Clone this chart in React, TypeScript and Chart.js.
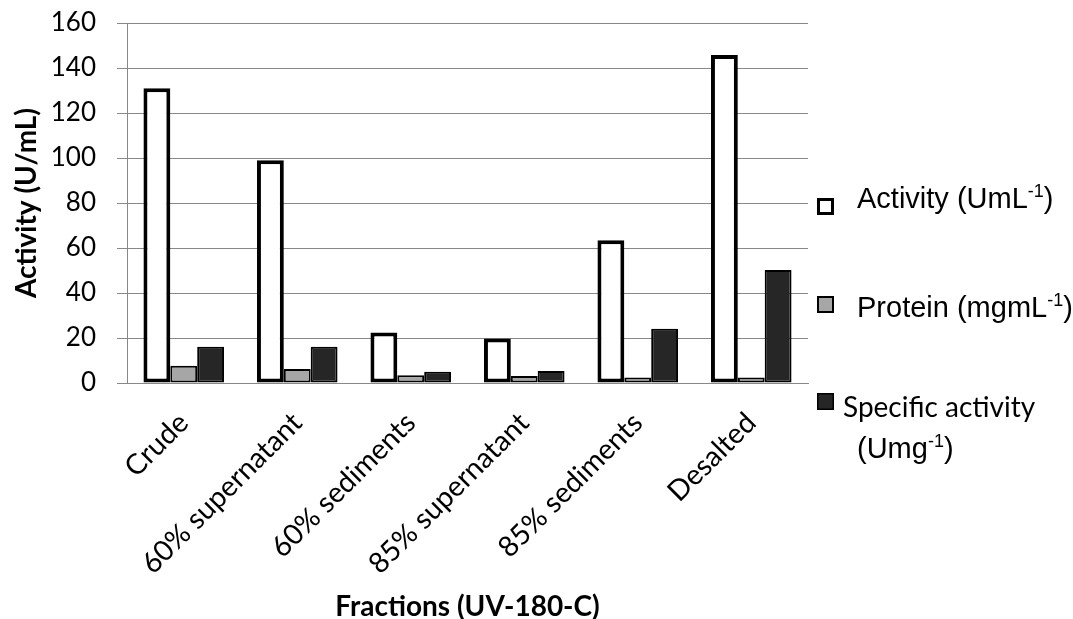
import React, { useEffect, useRef } from "react";
import { Chart, registerables } from "chart.js";

Chart.register(...registerables);

const categories = [
  "Crude",
  "60% supernatant",
  "60% sediments",
  "85% supernatant",
  "85% sediments",
  "Desalted",
];
const activity = [131, 99, 22.5, 19.8, 63.5, 145.8];
const protein = [7.7, 6.2, 3.5, 3.1, 2.5, 2.5];
const specificActivity = [16.1, 16.1, 5.0, 5.3, 24.1, 50.2];
const yTicks = { min: 0, max: 160, step: 20 };

const legendItems = [
  { main: "Activity (UmL", sup: "-1", tail: ")", fill: "#ffffff", border: 3, font: "Liberation Sans" },
  { main: "Protein (mgmL", sup: "-1", tail: ")", fill: "#a6a6a6", border: 2, font: "Liberation Sans" },
  { main: "Specific activity", sup: "", tail: "", fill: "#262626", border: 1.5, font: "Lato", second: { main: "(Umg", sup: "-1", tail: ")" } },
];

const legendPlugin = {
  id: "customLegend",
  afterDraw(chart: any) {
    const ctx = chart.ctx as CanvasRenderingContext2D;
    ctx.save();
    const boxX = 817;
    const boxS = 17;
    const rows = [
      { boxY: 198, textX: 857, baseY: 208 },
      { boxY: 296, textX: 857, baseY: 317 },
      { boxY: 393, textX: 843, baseY: 417 },
    ];
    const drawSup = (x: number, y: number, it: { main: string; sup: string; tail: string }, family: string, size: number) => {
      ctx.fillStyle = "#000";
      ctx.textBaseline = "alphabetic";
      ctx.textAlign = "left";
      ctx.font = `${size}px "${family}"`;
      ctx.fillText(it.main, x, y);
      let cx = x + ctx.measureText(it.main).width;
      if (it.sup) {
        ctx.font = `18px "${family}"`;
        ctx.fillText(it.sup, cx, y - 11);
        cx += ctx.measureText(it.sup).width;
      }
      if (it.tail) {
        ctx.font = `${size}px "${family}"`;
        ctx.fillText(it.tail, cx, y);
      }
    };
    legendItems.forEach((it, i) => {
      const r = rows[i];
      ctx.fillStyle = it.fill;
      ctx.fillRect(boxX, r.boxY, boxS, boxS);
      ctx.strokeStyle = "#000";
      ctx.lineWidth = it.border;
      const h = it.border / 2;
      ctx.strokeRect(boxX + h, r.boxY + h, boxS - it.border, boxS - it.border);
      drawSup(r.textX, r.baseY, it, it.font, it.font === "Lato" ? 28 : 29);
      if (it.second) {
        drawSup(857, 458, it.second, "Liberation Sans", 29);
      }
    });
    ctx.restore();
  },
};

export default function App() {
  const ref = useRef<HTMLCanvasElement | null>(null);
  useEffect(() => {
    document.body.style.margin = "0";
    const canvas = ref.current;
    if (!canvas) return;
    Chart.defaults.font.family = "Lato";
    Chart.defaults.color = "#000";
    const chart = new Chart(canvas, {
      type: "bar",
      data: {
        labels: categories,
        datasets: [
          {
            label: "Activity (UmL-1)",
            data: activity,
            backgroundColor: "#ffffff",
            borderColor: "#000000",
            borderWidth: 4,
            borderSkipped: false,
          },
          {
            label: "Protein (mgmL-1)",
            data: protein,
            backgroundColor: "#a6a6a6",
            borderColor: "#000000",
            borderWidth: 2,
            borderSkipped: false,
          },
          {
            label: "Specific activity (Umg-1)",
            data: specificActivity,
            backgroundColor: "#262626",
            borderColor: "#000000",
            borderWidth: 2,
            borderSkipped: false,
          },
        ],
      },
      options: {
        animation: false,
        responsive: true,
        maintainAspectRatio: false,
        layout: { padding: { top: 23, right: 265, left: 0, bottom: 0 } },
        datasets: { bar: { categoryPercentage: 0.71, barPercentage: 1.0 } },
        plugins: {
          legend: { display: false },
          tooltip: { enabled: false },
        },
        scales: {
          x: {
            grid: { display: false, drawTicks: false },
            border: { display: true, color: "#888888", width: 1 },
            ticks: {
              maxRotation: 45,
              minRotation: 45,
              padding: 23,
              font: { size: 28.5, family: "Lato" },
              color: "#000",
            },
            title: {
              display: true,
              text: "Fractions (UV-180-C)",
              font: { size: 28, weight: "bold", family: "Lato" },
              padding: { top: 0, bottom: -5 },
              color: "#000",
            },
            afterFit: (s: any) => {
              s.height = 236;
              s.paddingLeft = 0;
              s.paddingRight = 0;
            },
          },
          y: {
            min: yTicks.min,
            max: yTicks.max,
            grid: { color: "#888888", lineWidth: 1, tickLength: 10, drawTicks: true },
            border: { display: true, color: "#888888", width: 1 },
            ticks: {
              stepSize: yTicks.step,
              padding: 21,
              font: { size: 26, family: "Lato" },
              color: "#000",
            },
            title: {
              display: true,
              text: "Activity (U/mL)",
              font: { size: 28, weight: "bold", family: "Lato" },
              padding: { top: 10, bottom: 0 },
              color: "#000",
            },
            afterFit: (s: any) => {
              s.width = 127;
              s.paddingTop = 0;
              s.paddingBottom = 0;
            },
          },
        },
      },
      plugins: [legendPlugin],
    });
    return () => chart.destroy();
  }, []);
  return (
    <div style={{ position: "fixed", left: 0, top: 0, width: 1073, height: 619, background: "#fff" }}>
      <canvas ref={ref} />
    </div>
  );
}
